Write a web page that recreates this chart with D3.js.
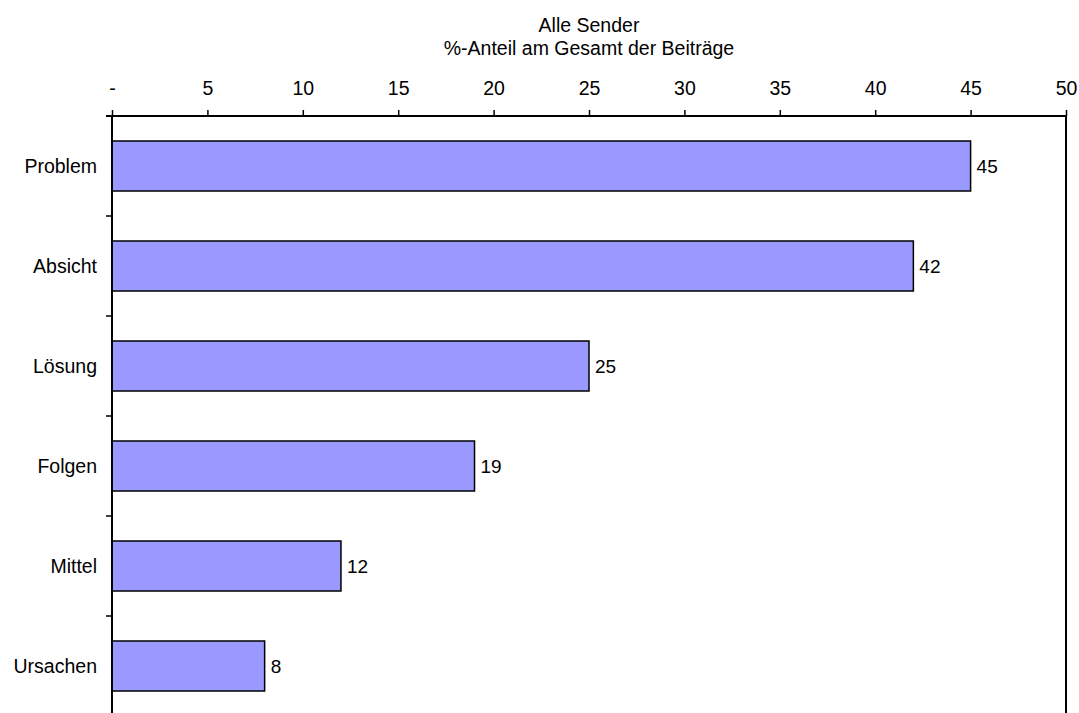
<!DOCTYPE html>
<html>
<head>
<meta charset="utf-8">
<script src="https://cdn.jsdelivr.net/npm/d3@7"></script>
<style>
  html, body { margin: 0; padding: 0; background: #fff; }
  svg { display: block; font-family: "Liberation Sans", Arial, sans-serif; }
</style>
</head>
<body>
<svg id="chart" width="1079" height="713"></svg>
<script>
// Topics covered in the reports, share of all reports in percent
const categories = ["Problem", "Absicht", "Lösung", "Folgen", "Mittel", "Ursachen"];
const shares = [45, 42, 25, 19, 12, 8];
const tickValues = [0, 5, 10, 15, 20, 25, 30, 35, 40, 45, 50];
const titleLines = ["Alle Sender", "%-Anteil am Gesamt der Beiträge"];

const svg = d3.select("#chart");
const margin = { top: 116, left: 112, right: 13 };
const plotW = 1079 - margin.left - margin.right;
const plotH = 600;
const font = "Liberation Sans, Arial, sans-serif";

const x = d3.scaleLinear().domain([0, 50]).range([0, plotW]);
const y = d3.scaleBand().domain(categories).range([0, plotH]).paddingInner(0.5).paddingOuter(0.25);

const g = svg.append("g").attr("transform", `translate(${margin.left},${margin.top})`);

// Titles
svg.selectAll("text.title")
  .data(titleLines)
  .enter().append("text")
  .attr("class", "title")
  .attr("x", margin.left + plotW / 2)
  .attr("y", (d, i) => 32 + i * 23)
  .attr("text-anchor", "middle")
  .attr("font-size", 19.5)
  .attr("fill", "#000")
  .text(d => d);

// Bars
g.selectAll("rect.bar")
  .data(categories)
  .enter().append("rect")
  .attr("class", "bar")
  .attr("x", 0)
  .attr("y", d => y(d))
  .attr("width", (d, i) => x(shares[i]))
  .attr("height", y.bandwidth())
  .attr("fill", "#9999FF")
  .attr("stroke", "#000")
  .attr("stroke-width", 1.5);

// Value labels
g.selectAll("text.value")
  .data(categories)
  .enter().append("text")
  .attr("class", "value")
  .attr("x", (d, i) => x(shares[i]) + 6)
  .attr("y", d => y(d) + y.bandwidth() / 2)
  .attr("dy", "0.35em")
  .attr("font-size", 19)
  .text((d, i) => d3.format("d")(shares[i]));

// Top axis
const xAxis = d3.axisTop(x)
  .tickValues(tickValues)
  .tickSize(6)
  .tickPadding(15)
  .tickFormat(d => d === 0 ? "-" : d3.format("d")(d));
const ax = g.append("g").call(xAxis);
ax.select(".domain").attr("stroke-width", 2).attr("d", `M-6,0H${plotW}`);
ax.selectAll(".tick line").attr("stroke-width", 1.5);
ax.selectAll(".tick text").attr("font-size", 19.5).attr("font-family", font).attr("fill", "#000");

// Left axis: ticks on category boundaries
const boundaries = d3.range(categories.length + 1).map(i => i * y.step());
const ay = g.append("g");
ay.append("line")
  .attr("x1", 0).attr("x2", 0)
  .attr("y1", 0).attr("y2", plotH)
  .attr("stroke", "#000").attr("stroke-width", 2);
ay.selectAll("line.btick")
  .data(boundaries)
  .enter().append("line")
  .attr("class", "btick")
  .attr("x1", -6).attr("x2", 0)
  .attr("y1", d => d).attr("y2", d => d)
  .attr("stroke", "#000").attr("stroke-width", 1.5);

// Category labels
g.selectAll("text.cat")
  .data(categories)
  .enter().append("text")
  .attr("class", "cat")
  .attr("x", -15)
  .attr("y", d => y(d) + y.bandwidth() / 2)
  .attr("dy", "0.35em")
  .attr("text-anchor", "end")
  .attr("font-size", 19.5)
  .text(d => d);

// Right frame line
g.append("line")
  .attr("x1", plotW).attr("x2", plotW)
  .attr("y1", 0).attr("y2", plotH)
  .attr("stroke", "#000").attr("stroke-width", 2);
</script>
</body>
</html>
